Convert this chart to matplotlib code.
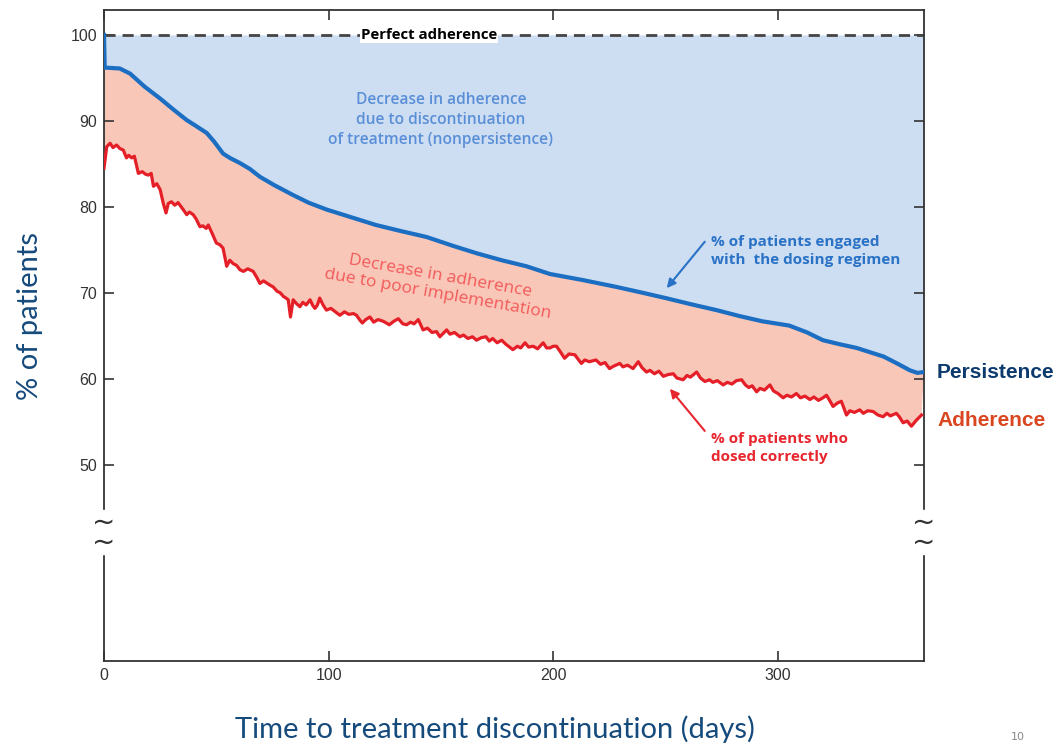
import matplotlib
matplotlib.use("Agg")
import matplotlib.pyplot as plt
import matplotlib.transforms as mtransforms
from matplotlib.patches import Rectangle

# persistence: share of patients still engaged with the regimen
pers_days = [0, 0.3, 7, 11.6, 18, 25, 31, 36.8, 41, 45.7, 49, 53, 56, 60.5, 65,
             69.4, 76, 84, 91, 99, 110, 121, 132, 143.6, 155, 166, 177, 188,
             198.5, 213, 228, 240, 250, 261, 272.6, 283, 293, 305, 313, 320,
             328, 335, 341, 347, 353, 358.7, 362, 365]
pers_pct = [100, 96.2, 96.1, 95.5, 94.0, 92.6, 91.3, 90.1, 89.4, 88.6, 87.6,
            86.2, 85.7, 85.1, 84.4, 83.5, 82.5, 81.4, 80.5, 79.7, 78.8, 77.9,
            77.2, 76.5, 75.5, 74.6, 73.8, 73.1, 72.2, 71.5, 70.7, 70.0, 69.4,
            68.7, 68.0, 67.3, 66.7, 66.2, 65.4, 64.5, 64.0, 63.6, 63.1, 62.6,
            61.8, 61.0, 60.7, 60.8]

# adherence: share of patients who dosed correctly
adh_days = [0, 1.2, 2.7, 4, 5.6, 7, 8.6, 10, 11, 12.3, 13.5, 15.3, 17, 18.5,
            19.7, 21, 22, 23.5, 25, 26.4, 27.6, 28.6, 30, 31.5, 33, 33.8, 35.5,
            36.8, 38, 39.7, 41, 42.7, 44, 45.5, 46.4, 48, 50, 51.6, 53, 54.6,
            56, 57.5, 59, 60.5, 62, 64, 66.4, 68, 69.4, 71, 73.9, 75.3, 77,
            78.5, 79.8, 81, 82, 83, 84.2, 85.5, 87.2, 88.5, 90, 91.7, 93, 93.9,
            95, 96, 97.5, 99, 101, 103, 105, 107, 109, 111, 112.4, 114, 115,
            116.5, 118.4, 120, 122, 124.3, 127, 129, 131, 133, 134.7, 136.5,
            138, 139.9, 142, 144, 146, 148, 149.5, 151, 152.5, 154, 156, 158.4,
            160, 162, 164, 165.8, 168, 170, 171.5, 173, 175, 177, 179, 182,
            184, 185.5, 187.4, 189, 191, 193, 195.5, 197, 198.5, 200, 201.4,
            203, 205, 207, 209.6, 211, 212.5, 214, 216, 219, 221, 223, 225,
            227, 229.6, 231, 233, 235.5, 237.8, 239.5, 241.5, 243, 245, 247,
            249, 251, 253.4, 255, 257.8, 259.5, 261, 263.8, 265.5, 267.5,
            269.5, 271, 273, 275.6, 277.5, 279.5, 281.5, 283.8, 285.5, 287,
            288.5, 290.5, 292, 294, 296.4, 298, 300, 302.3, 304, 306, 308.2,
            310, 312, 314.2, 316, 318, 320, 321.6, 323, 324.5, 326.5, 328.2,
            330.5, 332, 334, 336.4, 338, 340, 342.4, 344.5, 346.8, 348.5, 350,
            352.7, 354, 355.7, 357.5, 359.4, 361.6, 363.9]
adh_pct = [84.5, 87.0, 87.4, 86.9, 87.2, 86.8, 86.6, 85.7, 86.0, 85.7, 85.9,
           83.9, 84.1, 83.8, 83.7, 83.9, 82.4, 82.7, 82.0, 80.4, 79.3, 80.4,
           80.6, 80.2, 80.5, 80.2, 79.6, 79.1, 79.4, 79.1, 78.6, 77.7, 77.8,
           77.5, 77.9, 77.0, 75.8, 75.6, 75.2, 73.1, 73.8, 73.4, 73.2, 72.7,
           72.5, 72.8, 72.5, 71.8, 71.1, 71.4, 70.9, 70.7, 70.2, 70.0, 69.6,
           69.4, 69.2, 67.2, 69.2, 68.8, 68.4, 68.9, 68.6, 69.2, 68.5, 68.2,
           68.6, 69.4, 68.6, 68.0, 68.2, 67.8, 67.4, 67.8, 67.5, 67.6, 67.4,
           66.8, 66.5, 66.9, 67.2, 66.6, 66.9, 66.7, 66.3, 66.7, 67.0, 66.4,
           66.3, 66.6, 66.4, 66.9, 65.7, 65.9, 65.4, 65.5, 64.9, 65.3, 65.7,
           65.2, 65.4, 64.9, 65.1, 64.7, 64.9, 64.5, 64.8, 64.9, 64.4, 64.7,
           64.2, 64.5, 64.0, 63.4, 63.8, 63.6, 64.2, 63.7, 63.8, 63.5, 64.2,
           63.6, 63.6, 63.8, 63.8, 63.2, 62.4, 62.9, 62.8, 62.3, 61.8, 62.2,
           62.0, 62.2, 61.7, 61.9, 61.2, 61.5, 61.8, 61.4, 61.6, 61.2, 62.0,
           61.3, 60.8, 61.0, 60.6, 60.9, 60.3, 60.5, 60.6, 60.1, 59.9, 60.4,
           60.2, 60.8, 60.1, 59.7, 59.9, 59.6, 59.8, 59.3, 59.6, 59.4, 59.8,
           59.9, 59.3, 59.0, 59.2, 58.5, 58.9, 58.7, 59.3, 58.6, 58.3, 57.8,
           58.1, 57.9, 58.3, 57.8, 58.0, 57.6, 57.9, 57.5, 57.8, 58.1, 57.5,
           56.8, 57.2, 57.4, 55.8, 56.3, 56.1, 56.4, 56.0, 56.3, 56.2, 55.8,
           55.6, 56.0, 55.7, 56.0, 55.6, 54.9, 55.1, 54.5, 55.2, 55.8]

x_ticks = [0, 100, 200, 300]
y_ticks = [50, 60, 70, 80, 90, 100]

blue_fill = "#cedef2"
pink_fill = "#f9c7b8"
blue_line = "#1b6ec2"
red_line = "#e41f28"
navy = "#154a7c"
axis_grey = "#333333"

narrow = ["Liberation Sans Narrow", "Liberation Sans", "DejaVu Sans"]

fig = plt.figure(figsize=(10.56, 7.45), dpi=100)
ax = fig.add_axes([0.0985, 0.1128, 0.7765, 0.8738])

# shaded gaps
ax.fill_between(pers_days, pers_pct, 100, color=blue_fill, lw=0, zorder=1)
band_x = pers_days + adh_days[::-1]
band_y = pers_pct + adh_pct[::-1]
ax.fill(band_x, band_y, color=pink_fill, lw=0, zorder=1)

ax.plot([0, 365], [100, 100], color="#444444", lw=2, ls=(0, (4, 2.5)), zorder=2)
ax.plot(pers_days, pers_pct, color=blue_line, lw=3, zorder=3)
ax.plot(adh_days, adh_pct, color=red_line, lw=2.3, zorder=3)

ax.set_xlim(0, 365)
ax.set_ylim(27.2, 102.9)
ax.set_xticks(x_ticks)
ax.set_yticks(y_ticks)
ax.tick_params(direction="in", top=True, right=True, length=7, width=1.2,
               color=axis_grey, labelcolor=axis_grey, labelsize=11.5, pad=5)
for lab in ax.get_xticklabels() + ax.get_yticklabels():
    lab.set_family(narrow)
for sp in ax.spines.values():
    sp.set_color(axis_grey)
    sp.set_linewidth(1.3)

# axis break marks on both vertical spines
tr = mtransforms.blended_transform_factory(ax.transAxes, ax.transData)
for xa in (0, 1):
    ax.add_patch(Rectangle((xa - 0.006, 39.6), 0.012, 5.2, transform=tr,
                           color="white", clip_on=False, zorder=5))
    ax.text(xa, 42.15, "~\n~", transform=tr, ha="center", va="center",
            fontsize=20, color=axis_grey, linespacing=0.62,
            clip_on=False, zorder=6)

ax.text(144.5, 100, "Perfect adherence", ha="center", va="center",
        fontsize=10.8, fontweight="bold", family="Open Sans", color="black",
        bbox=dict(facecolor="white", edgecolor="none", pad=0.5), zorder=4)

ax.text(150, 90.1, "Decrease in adherence\ndue to discontinuation\nof treatment (nonpersistence)",
        ha="center", va="center", fontsize=11.2, fontweight="semibold",
        family="Open Sans", color="#5a8fd8", linespacing=1.35, zorder=4)

ax.text(149, 70.9, "Decrease in adherence\ndue to poor implementation",
        ha="center", va="center", fontsize=12.5, rotation=-10,
        family="Open Sans", color="#f25a5a", linespacing=1.15, zorder=4)

ax.text(270, 74.9, "% of patients engaged\nwith  the dosing regimen",
        ha="left", va="center", fontsize=11, fontweight="bold",
        family="Open Sans", color="#2a72c6", linespacing=1.35, zorder=4)
ax.annotate("", xy=(249.7, 70.3), xytext=(268.2, 76.2),
            arrowprops=dict(arrowstyle="-|>", color="#2a72c6", lw=1.5,
                            mutation_scale=13), zorder=4)

ax.text(270, 52.0, "% of patients who\ndosed correctly",
        ha="left", va="center", fontsize=11, fontweight="bold",
        family="Open Sans", color="#e8262e", linespacing=1.35, zorder=4)
ax.annotate("", xy=(251.1, 59.1), xytext=(268.2, 53.7),
            arrowprops=dict(arrowstyle="-|>", color="#e8262e", lw=1.5,
                            mutation_scale=13), zorder=4)

# series names beside the plot
fig.text(937 / 1056, 1 - 373 / 745, "Persistence", ha="left", va="center",
         fontsize=15, fontweight="bold", family=narrow, color="#0c3a6e")
fig.text(937 / 1056, 1 - 420 / 745, "Adherence", ha="left", va="center",
         fontsize=15, fontweight="bold", family=narrow, color="#d9461f")

fig.text(495 / 1056, 1 - 729 / 745, "Time to treatment discontinuation (days)",
         ha="center", va="center", fontsize=21, family="Lato", color=navy)
fig.text(30 / 1056, 1 - 316 / 745, "% of patients", ha="center", va="center",
         rotation=90, fontsize=21, family="Lato", color=navy)
fig.text(1018 / 1056, 1 - 737 / 745, "10", ha="center", va="center",
         fontsize=8, color="#888888")

fig.savefig("out.png", dpi=100)
